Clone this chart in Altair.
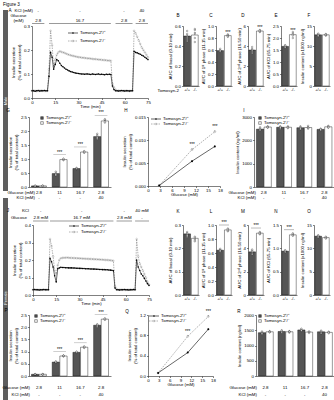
import altair as alt
import pandas as pd

FONT = "Liberation Sans"
FS = 4.4
DARK = "#555555"
KOC = "#808080"
SIDE = "#5e5e5e"
WT_LAB = "Tomosyn-2⁺/⁺"
KO_LAB = "Tomosyn-2⁻/⁻"
GENO = ["+/+", "-/-"]
GRPS = ["g1", "g2", "g3", "g4"]
ONE = pd.DataFrame({"d": [0]})

# ---------------- data ----------------
TIME = list(range(76))
A_WT = [0.030, 0.030, 0.028, 0.030, 0.031, 0.029, 0.030, 0.030, 0.031, 0.030, 0.030,
        0.090, 0.190, 0.170, 0.120, 0.140, 0.160, 0.155, 0.145, 0.135, 0.130,
        0.125, 0.120, 0.117, 0.113, 0.110, 0.108, 0.106, 0.104, 0.103, 0.102,
        0.101, 0.100, 0.100, 0.099, 0.100, 0.100, 0.099, 0.098, 0.100, 0.099,
        0.098, 0.099, 0.100, 0.098, 0.099, 0.098, 0.097, 0.099, 0.098, 0.099,
        0.098,
        0.050, 0.035, 0.030, 0.030, 0.029, 0.030, 0.031, 0.030, 0.029, 0.030, 0.030, 0.029, 0.030, 0.030,
        0.195, 0.190, 0.188, 0.185, 0.182, 0.178, 0.175, 0.170, 0.165, 0.160]
A_KO = [0.030, 0.031, 0.030, 0.029, 0.030, 0.030, 0.031, 0.030, 0.030, 0.029, 0.030,
        0.120, 0.280, 0.220, 0.130, 0.160, 0.180, 0.190, 0.195, 0.192, 0.190,
        0.188, 0.185, 0.182, 0.180, 0.178, 0.176, 0.175, 0.173, 0.172, 0.170,
        0.170, 0.168, 0.168, 0.167, 0.166, 0.165, 0.165, 0.164, 0.163, 0.162,
        0.162, 0.161, 0.160, 0.160, 0.159, 0.158, 0.158, 0.157, 0.156, 0.156,
        0.155,
        0.060, 0.045, 0.035, 0.030, 0.031, 0.030, 0.029, 0.030, 0.030, 0.031, 0.030, 0.029, 0.030, 0.030,
        0.280, 0.270, 0.255, 0.240, 0.225, 0.210, 0.200, 0.190, 0.180, 0.170]
J_WT = [0.030, 0.031, 0.030, 0.030, 0.029, 0.030, 0.030, 0.031, 0.030, 0.030, 0.030,
        0.210, 0.190, 0.160, 0.110, 0.075, 0.150, 0.155, 0.158, 0.157, 0.157,
        0.156, 0.156, 0.155, 0.155, 0.155, 0.154, 0.154, 0.153, 0.153, 0.152,
        0.152, 0.151, 0.151, 0.150, 0.150, 0.150, 0.149, 0.149, 0.148, 0.148,
        0.147, 0.147, 0.146, 0.146, 0.145, 0.145, 0.144, 0.144, 0.143, 0.142,
        0.141, 0.138,
        0.040, 0.030, 0.030, 0.029, 0.030, 0.030, 0.031, 0.030, 0.030, 0.029, 0.030, 0.030, 0.031, 0.030,
        0.200, 0.160, 0.140, 0.120, 0.110, 0.095, 0.080, 0.065, 0.055]
J_KO = [0.030, 0.030, 0.031, 0.030, 0.030, 0.029, 0.030, 0.030, 0.030, 0.031, 0.030,
        0.320, 0.280, 0.220, 0.140, 0.120, 0.170, 0.200, 0.210, 0.212, 0.213,
        0.213, 0.214, 0.213, 0.212, 0.212, 0.211, 0.211, 0.210, 0.210, 0.209,
        0.209, 0.208, 0.208, 0.207, 0.207, 0.206, 0.206, 0.205, 0.205, 0.204,
        0.204, 0.203, 0.203, 0.202, 0.202, 0.201, 0.200, 0.200, 0.199, 0.198,
        0.197, 0.195,
        0.050, 0.035, 0.030, 0.030, 0.031, 0.030, 0.030, 0.029, 0.030, 0.030, 0.031, 0.030, 0.030, 0.030,
        0.320, 0.220, 0.180, 0.160, 0.140, 0.120, 0.100, 0.075, 0.060]

A_SEG_A = [0, 11, 54, 67]
A_SEG_B = [8, 51, 65, 75]
A_GLC = ["2.8", "16.7", "2.8", "2.8"]
A_KCL = ["-", "-", "-", "40"]
J_SEG_A = [0, 11, 54, 66]
J_SEG_B = [10, 52, 64, 75]
J_GLC = ["2.8 mM", "16.7 mM", "2.8 mM", "-"]
J_KCL = ["-", "-", "-", "40 mM"]

# two-bar panels: means, sem, points
B_M = [0.50, 0.51]; B_E = [0.02, 0.03]
B_WP = [0.47, 0.52, 0.55, 0.49, 0.45]; B_KP = [0.56, 0.48, 0.53, 0.44, 0.57]
C_M = [0.59, 0.84]; C_E = [0.01, 0.01]
C_WP = [0.57, 0.60, 0.62, 0.58, 0.59]; C_KP = [0.82, 0.86, 0.84, 0.85, 0.83]
D_M = [3.6, 5.5]; D_E = [0.15, 0.05]
D_WP = [3.3, 3.7, 3.9, 3.5, 3.6]; D_KP = [5.4, 5.6, 5.5, 5.45, 5.55]
E_M = [1.65, 2.14]; E_E = [0.02, 0.05]
E_WP = [1.60, 1.65, 1.70, 1.62, 1.68]; E_KP = [2.00, 2.20, 2.15, 2.25, 2.10]
F_M = [12.8, 12.8]; F_E = [0.15, 0.12]
F_WP = [12.5, 13.0, 12.8, 13.1, 12.6]; F_KP = [12.6, 12.9, 12.7, 13.0, 12.8]
K_M = [0.262, 0.243]; K_E = [0.004, 0.004]
K_WP = [0.25, 0.27, 0.26, 0.255, 0.265]; K_KP = [0.23, 0.25, 0.245, 0.235, 0.24]
L_M = [0.64, 0.93]; L_E = [0.01, 0.01]
L_WP = [0.62, 0.65, 0.64, 0.63, 0.66]; L_KP = [0.91, 0.94, 0.92, 0.95, 0.93]
M_M = [3.7, 5.3]; M_E = [0.1, 0.08]
M_WP = [3.5, 3.8, 3.9, 3.6, 3.7]; M_KP = [5.2, 5.4, 5.3, 5.35, 5.25]
N_M = [0.94, 1.29]; N_E = [0.01, 0.02]
N_WP = [0.93, 0.95, 0.94, 0.92, 0.96]; N_KP = [1.27, 1.31, 1.30, 1.28, 1.32]
O_M = [12.6, 12.3]; O_E = [0.12, 0.1]
O_WP = [12.4, 12.8, 12.6, 12.5, 12.7]; O_KP = [12.2, 12.4, 12.3, 12.1, 12.5]

# grouped bar panels
GLC_LAB = ["2.8", "11", "16.7", "2.8"]
KCL_LAB = ["-", "-", "-", "40"]
G_WT = [0.04, 0.48, 0.66, 1.80]; G_KO = [0.04, 0.98, 1.25, 2.36]
G_WE = [0.005, 0.03, 0.02, 0.06]; G_KE = [0.005, 0.02, 0.03, 0.05]
G_WP = [[0.03, 0.04, 0.05, 0.04], [0.42, 0.50, 0.45, 0.55], [0.64, 0.67, 0.66, 0.68], [1.72, 1.85, 1.78, 1.90]]
G_KP = [[0.04, 0.03, 0.05, 0.04], [0.96, 1.00, 0.97, 1.01], [1.22, 1.27, 1.24, 1.28], [2.30, 2.40, 2.35, 2.42]]
G_STAR = ["", "***", "***", "***"]
I_WT = [2480, 2560, 2540, 2470]; I_KO = [2570, 2560, 2550, 2580]
I_WE = [60, 50, 60, 50]; I_KE = [40, 50, 60, 50]
I_WP = [[2420, 2520, 2560, 2450], [2500, 2600, 2580, 2550], [2480, 2600, 2560, 2520], [2420, 2500, 2480, 2460]]
I_KP = [[2540, 2600, 2580, 2560], [2520, 2600, 2570, 2550], [2500, 2620, 2560, 2530], [2540, 2620, 2600, 2560]]
I_STAR = ["", "", "", ""]
P_WT = [0.07, 0.57, 0.97, 2.08]; P_KO = [0.07, 0.82, 1.18, 2.33]
P_WE = [0.005, 0.02, 0.02, 0.04]; P_KE = [0.005, 0.02, 0.03, 0.03]
P_WP = [[0.06, 0.07, 0.08, 0.07], [0.55, 0.58, 0.56, 0.60], [0.95, 0.98, 0.96, 1.00], [2.02, 2.10, 2.06, 2.12]]
P_KP = [[0.07, 0.06, 0.08, 0.07], [0.80, 0.84, 0.82, 0.83], [1.15, 1.20, 1.17, 1.21], [2.30, 2.36, 2.32, 2.35]]
P_STAR = ["", "***", "***", "***"]
R_WT = [1420, 1460, 1510, 1450]; R_KO = [1450, 1450, 1440, 1430]
R_WE = [30, 30, 30, 30]; R_KE = [25, 25, 30, 25]
R_WP = [[1380, 1440, 1460, 1400], [1420, 1480, 1500, 1440], [1480, 1530, 1550, 1490], [1400, 1470, 1490, 1440]]
R_KP = [[1430, 1470, 1460, 1440], [1420, 1470, 1460, 1450], [1410, 1460, 1450, 1440], [1400, 1450, 1440, 1430]]
R_STAR = ["", "", "", ""]

# dose-response panels
GX = [2.8, 11, 16.7]
H_WT = [0.0001, 0.0054, 0.0086]; H_KO = [0.0001, 0.0079, 0.0118]
H_WE = [0.0001, 0.0002, 0.0003]; H_KE = [0.0001, 0.0003, 0.0003]
Q_WT = [0.06, 0.46, 0.92]; Q_KO = [0.06, 0.78, 1.17]
Q_WE = [0.005, 0.02, 0.02]; Q_KE = [0.005, 0.02, 0.03]
KO_STARS = ["", "***", "***"]


# ---------------- helpers ----------------
def txt(text, x, y, size=FS, align="center", angle=0, color="black"):
    return alt.Chart(ONE).mark_text(text=text, align=align, baseline="middle", fontSize=size,
                                    angle=angle, color=color, font=FONT).encode(
        x=alt.value(x), y=alt.value(y))


def hline(x1, x2, y, color="black", width=0.5, dash=None):
    kw = dict(color=color, strokeWidth=width)
    if dash:
        kw["strokeDash"] = dash
    return alt.Chart(ONE).mark_rule(**kw).encode(x=alt.value(x1), x2=alt.value(x2), y=alt.value(y))


def dot(x, y, filled, color="black", size=3):
    return alt.Chart(ONE).mark_point(shape="circle", filled=filled, color=color, size=size,
                                     strokeWidth=0.4, opacity=1).encode(x=alt.value(x), y=alt.value(y))


def square(x, y, fill):
    return alt.Chart(ONE).mark_square(size=7, fill=fill, stroke="black", strokeWidth=0.4,
                                      opacity=1).encode(x=alt.value(x), y=alt.value(y))


def rect(x1, x2, y1, y2, color):
    return alt.Chart(ONE).mark_rect(color=color).encode(
        x=alt.value(x1), x2=alt.value(x2), y=alt.value(y1), y2=alt.value(y2))


def line_legend(x, y, gap):
    return [hline(x, x + 10, y, "black", 0.6), dot(x + 5, y, True, "black", 2.5),
            txt(WT_LAB, x + 12, y, align="left"),
            hline(x, x + 10, y + gap, KOC, 0.6, [1.5, 1]), dot(x + 5, y + gap, False, KOC),
            txt(KO_LAB, x + 12, y + gap, align="left")]


def bar_legend(x, y, gap):
    return [square(x, y, DARK), txt(WT_LAB, x + 4, y, align="left"),
            square(x, y + gap, "white"), txt(KO_LAB, x + 4, y + gap, align="left")]


def sp(w, h=1):
    return alt.Chart(ONE).mark_point(opacity=0).encode(
        x=alt.value(0), y=alt.value(0)).properties(width=w, height=h)


def timecourse(wt, ko, ymax, yvals, h, seg_a, seg_b, glc, kcl, hdr_y, extras):
    w = 116
    dw = pd.DataFrame({"t": TIME, "v": wt})
    dk = pd.DataFrame({"t": TIME, "v": ko})
    sx = alt.Scale(domain=[0, 75], nice=False, zero=False)
    xax = alt.Axis(values=[0, 15, 30, 45, 60, 75], format="d", title="Time (min)", titlePadding=1)
    sy = alt.Scale(domain=[0, ymax], nice=False)
    yax = alt.Axis(values=yvals, format=".1f", title=["Insulin secretion", "(% of total content)"])

    def X(f):
        return alt.X(f"{f}:Q", scale=sx, axis=xax)

    Y = alt.Y("v:Q", scale=sy, axis=yax)
    hdr = pd.DataFrame({"a": seg_a, "b": seg_b, "glc": glc, "kcl": kcl})
    kr, gr, lr = hdr_y
    layers = [
        alt.Chart(dk).mark_line(color=KOC, strokeWidth=0.6, strokeDash=[1.5, 1]).encode(x=X("t"), y=Y),
        alt.Chart(dk).mark_point(shape="circle", filled=False, color=KOC, size=3,
                                 strokeWidth=0.4).encode(x=X("t"), y=Y),
        alt.Chart(dw).mark_line(color="black", strokeWidth=0.6).encode(x=X("t"), y=Y),
        alt.Chart(dw).mark_point(shape="circle", filled=True, color="black", size=2.5,
                                 opacity=1).encode(x=X("t"), y=Y),
        alt.Chart(hdr).mark_rule(color="black", strokeWidth=0.4).encode(
            x=X("a"), x2="b:Q", y=alt.value(lr)),
        alt.Chart(hdr).transform_calculate(t="(datum.a + datum.b) / 2").mark_text(
            fontSize=FS, font=FONT, color="black").encode(x=X("t"), y=alt.value(gr), text="glc:N"),
        alt.Chart(hdr).transform_calculate(t="(datum.a + datum.b) / 2").mark_text(
            fontSize=FS, font=FONT, color="black").encode(x=X("t"), y=alt.value(kr), text="kcl:N"),
    ]
    return alt.layer(*(layers + extras)).properties(width=w, height=h)


def bar2(m, e, wp, kp, ymax, yvals, fmt, title, letter, ly, star=False, bracket=False,
         w=16, h=60, extras=None):
    bd = pd.DataFrame({"g": GENO, "m": m, "e": e})
    bd["hi"] = bd["m"] + bd["e"]
    pdf = pd.DataFrame({"g": ["+/+"] * len(wp) + ["-/-"] * len(kp), "m": wp + kp})
    X = alt.X("g:N", sort=GENO, scale=alt.Scale(domain=GENO, paddingInner=0.12, paddingOuter=0.1),
              axis=alt.Axis(title=None, labelAngle=0, ticks=False, labelFontSize=4, labelPadding=1.5))
    sy = alt.Scale(domain=[0, ymax], nice=False)
    yax = alt.Axis(values=yvals, format=fmt, title=title)

    def Y(f):
        return alt.Y(f"{f}:Q", scale=sy, axis=yax)

    layers = [
        alt.Chart(bd).mark_bar(stroke="black", strokeWidth=0.4).encode(
            x=X, y=Y("m"), fill=alt.Fill("g:N", scale=alt.Scale(domain=GENO, range=[DARK, "white"]),
                                          legend=None)),
        alt.Chart(bd).mark_rule(color="black", strokeWidth=0.4).encode(x=X, y=Y("m"), y2="hi:Q"),
        alt.Chart(pdf).mark_circle(size=2.5, fill="white", stroke="black", strokeWidth=0.3,
                                   opacity=1).encode(x=X, y=Y("m")),
        txt(letter, -5, ly, size=4.6),
    ]
    if star and not bracket:
        layers.append(alt.Chart(bd).transform_filter("datum.g == '-/-'").mark_text(
            text="***", dy=-2.5, fontSize=4.5, font=FONT, color="black").encode(x=X, y=Y("hi")))
    if bracket:
        bk = pd.DataFrame({"lvl": [bd["hi"].max() + 0.06 * ymax]})
        layers.append(alt.Chart(bk).mark_rule(color="#777777", strokeWidth=0.5).encode(
            x=alt.value(3), x2=alt.value(w - 3), y=Y("lvl")))
        layers.append(alt.Chart(bk).mark_text(text="***", dy=-2, fontSize=4.5, font=FONT,
                                              color="black").encode(x=alt.value(w / 2), y=Y("lvl")))
    if extras:
        layers += extras
    return alt.layer(*layers).properties(width=w, height=h)


def grouped(wm, km, we, ke, wps, kps, stars, ymax, yvals, fmt, title, w, h, rows_y, labx,
            letter, lpos, legpos):
    rows = []
    prow = []
    for i, gname in enumerate(GRPS):
        rows.append((gname, "+/+", wm[i], we[i]))
        rows.append((gname, "-/-", km[i], ke[i]))
        for v in wps[i]:
            prow.append((gname, "+/+", v))
        for v in kps[i]:
            prow.append((gname, "-/-", v))
    bd = pd.DataFrame(rows, columns=["grp", "g", "m", "e"])
    bd["hi"] = bd["m"] + bd["e"]
    pdf = pd.DataFrame(prow, columns=["grp", "g", "m"])
    st = pd.DataFrame({"grp": GRPS, "star": stars,
                       "lvl": [max(wm[i] + we[i], km[i] + ke[i]) + 0.06 * ymax for i in range(4)]})
    lab = pd.DataFrame({"grp": GRPS, "glc": GLC_LAB, "kcl": KCL_LAB})
    X = alt.X("grp:N", sort=GRPS, scale=alt.Scale(domain=GRPS, paddingInner=0.28, paddingOuter=0.12),
              axis=alt.Axis(labels=False, ticks=False, title=None))
    XO = alt.XOffset("g:N", sort=GENO, scale=alt.Scale(domain=GENO, paddingInner=0.05))
    sy = alt.Scale(domain=[0, ymax], nice=False)
    yax = alt.Axis(values=yvals, format=fmt, title=title)

    def Y(f):
        return alt.Y(f"{f}:Q", scale=sy, axis=yax)

    band = w / 3.96 * 0.72
    r1, r2 = rows_y
    layers = [
        alt.Chart(bd).mark_bar(stroke="black", strokeWidth=0.4).encode(
            x=X, xOffset=XO, y=Y("m"),
            fill=alt.Fill("g:N", scale=alt.Scale(domain=GENO, range=[DARK, "white"]), legend=None)),
        alt.Chart(bd).mark_rule(color="black", strokeWidth=0.4).encode(x=X, xOffset=XO, y=Y("m"), y2="hi:Q"),
        alt.Chart(pdf).mark_circle(size=2.5, fill="white", stroke="black", strokeWidth=0.3,
                                   opacity=1).encode(x=X, xOffset=XO, y=Y("m")),
        alt.Chart(st).transform_filter("datum.star != ''").mark_tick(
            size=band * 0.85, thickness=0.5, color="#777777").encode(x=X, y=Y("lvl")),
        alt.Chart(st).transform_filter("datum.star != ''").mark_text(
            dy=-2, fontSize=4.5, font=FONT, color="black").encode(x=X, y=Y("lvl"), text="star:N"),
        alt.Chart(lab).mark_text(fontSize=FS, font=FONT, color="black").encode(
            x=X, y=alt.value(h + r1), text="glc:N"),
        alt.Chart(lab).mark_text(fontSize=FS, font=FONT, color="black").encode(
            x=X, y=alt.value(h + r2), text="kcl:N"),
        txt("Glucose (mM)", labx, h + r1, align="right"),
        txt("KCl (mM)", labx, h + r2, align="right"),
        txt(letter, lpos[0], lpos[1], size=4.6),
    ] + bar_legend(legpos[0], legpos[1], 5)
    return alt.layer(*layers).properties(width=w, height=h)


def dose(wt, ko, we, ke, ymax, yvals, fmt, w, h, letter, lpos, legpos):
    df = pd.DataFrame({"x": GX + GX, "v": wt + ko, "e": we + ke,
                       "g": ["wt"] * 3 + ["ko"] * 3, "star": [""] * 3 + KO_STARS})
    df["hi"] = df["v"] + df["e"]
    dw = df[df["g"] == "wt"]
    dk = df[df["g"] == "ko"]
    X = alt.X("x:Q", scale=alt.Scale(domain=[0, 18], nice=False, zero=False),
              axis=alt.Axis(values=[0, 3, 6, 9, 12, 15, 18], format="d", title="Glucose (mM)",
                            titlePadding=1))
    sy = alt.Scale(domain=[0, ymax], nice=False)
    yax = alt.Axis(values=yvals, format=fmt, title=["Insulin secretion", "(% of total content)"])

    def Y(f):
        return alt.Y(f"{f}:Q", scale=sy, axis=yax)

    layers = [
        alt.Chart(dk).mark_line(color=KOC, strokeWidth=0.6, strokeDash=[1.5, 1]).encode(x=X, y=Y("v")),
        alt.Chart(dw).mark_line(color="black", strokeWidth=0.6).encode(x=X, y=Y("v")),
        alt.Chart(df).mark_rule(color="black", strokeWidth=0.4).encode(x=X, y=Y("v"), y2="hi:Q"),
        alt.Chart(dk).mark_point(shape="circle", filled=False, color=KOC, size=4,
                                 strokeWidth=0.5).encode(x=X, y=Y("v")),
        alt.Chart(dw).mark_point(shape="circle", filled=True, color="black", size=4,
                                 opacity=1).encode(x=X, y=Y("v")),
        alt.Chart(dk).mark_text(dy=-3.5, fontSize=4.5, font=FONT, color="black").encode(
            x=X, y=Y("hi"), text="star:N"),
        txt(letter, lpos[0], lpos[1], size=4.6),
    ] + line_legend(legpos[0], legpos[1], 5)
    return alt.layer(*layers).properties(width=w, height=h)


# ---------------- panels ----------------
A = timecourse(A_WT, A_KO, 0.3, [0, 0.1, 0.2, 0.3], 72, A_SEG_A, A_SEG_B, A_GLC, A_KCL,
               (-15, -5.5, -2.5),
               [txt("Figure 3", -29, -21, size=4.6, align="left"),
                rect(-29, -24, -16, 165, SIDE),
                txt("Male", -26.5, 75, size=4, angle=270, color="white"),
                txt("A", -22, -15, size=4.6),
                txt("KCl (mM)", 1, -15, align="right"),
                txt("Glucose", -13.5, -10),
                txt("(mM)", -13.5, -5.5)] + line_legend(36, 7, 8))

B = bar2(B_M, B_E, B_WP, B_KP, 0.6, [0, 0.2, 0.4, 0.6], ".1f", "AUC of basal (0-10 min)", "B", -10,
         extras=[txt("Tomosyn-2", -4, 65, align="right")])
C = bar2(C_M, C_E, C_WP, C_KP, 1.0, [0, 0.2, 0.4, 0.6, 0.8, 1.0], ".1f",
         "AUC of 1ˢᵗ phase (11-15 min)", "C", -10, star=True)
D = bar2(D_M, D_E, D_WP, D_KP, 6, [0, 2, 4, 6], "d", "AUC of 2ⁿᵈ phase (16-50 min)", "D", -10, star=True)
E = bar2(E_M, E_E, E_WP, E_KP, 2.5, [0, 0.5, 1.0, 1.5, 2.0, 2.5], ".1f", "AUC of KCl (65-75 min)",
         "E", -10, star=True)
Fp = bar2(F_M, F_E, F_WP, F_KP, 15, [0, 5, 10, 15], "d", "Insulin content (x1000 ng/ml)", "F", -10)

G = grouped(G_WT, G_KO, G_WE, G_KE, G_WP, G_KP, G_STAR, 2.5, [0, 0.5, 1.0, 1.5, 2.0, 2.5], ".1f",
            ["Insulin secretion", "(% of total content)"], 82, 70, (6, 11), 6, "G", (-21, -6), (13, 1))
H = dose(H_WT, H_KO, H_WE, H_KE, 0.015, [0, 0.005, 0.010, 0.015], ".3f", 72, 69, "H", (-22, -6), (3, 2))
I = grouped(I_WT, I_KO, I_WE, I_KE, I_WP, I_KP, I_STAR, 3000, [0, 1000, 2000, 3000], "d",
            "Insulin content (ng/ml)", 80, 70, (6, 11), 2, "I", (-10, -6), (6, 1))

J = timecourse(J_WT, J_KO, 0.4, [0, 0.1, 0.2, 0.3, 0.4], 70, J_SEG_A, J_SEG_B, J_GLC, J_KCL,
               (-14, -7, -4),
               [rect(-30, -25, -27, 176, SIDE),
                txt("Female", -27.5, 73, size=4, angle=270, color="white"),
                txt("J", -25, -14, size=4.6),
                txt("KCl", -4, -14, align="right"),
                txt("Glucose", -6, -7, align="right")] + line_legend(36, 1, 6))

K = bar2(K_M, K_E, K_WP, K_KP, 0.3, [0, 0.1, 0.2, 0.3], ".1f", "AUC of basal (0-10 min)", "K", -13, h=70)
L = bar2(L_M, L_E, L_WP, L_KP, 1.0, [0, 0.2, 0.4, 0.6, 0.8, 1.0], ".1f",
         "AUC of 1ˢᵗ phase (11-15 min)", "L", -13, bracket=True, h=70)
M = bar2(M_M, M_E, M_WP, M_KP, 6, [0, 2, 4, 6], "d", "AUC of 2ⁿᵈ phase (16-50 min)", "M", -13,
         bracket=True, h=70)
N = bar2(N_M, N_E, N_WP, N_KP, 1.5, [0, 0.5, 1.0, 1.5], ".1f", "AUC of KCl (65-75 min)", "N", -13,
         bracket=True, h=70)
O = bar2(O_M, O_E, O_WP, O_KP, 15, [0, 5, 10, 15], "d", "Insulin content (x1000 ng/ml)", "O", -13, h=70)

P = grouped(P_WT, P_KO, P_WE, P_KE, P_WP, P_KP, P_STAR, 2.5, [0, 0.5, 1.0, 1.5, 2.0, 2.5], ".1f",
            ["Insulin secretion", "(% of total content)"], 82, 61, (12, 19), 1, "P", (-23, -4), (7, 1))
Q = dose(Q_WT, Q_KO, Q_WE, Q_KE, 1.2, [0, 0.4, 0.8, 1.2], ".1f", 65, 61, "Q", (-21, -3), (1, 1))
R = grouped(R_WT, R_KO, R_WE, R_KE, R_WP, R_KP, R_STAR, 2000, [0, 500, 1000, 1500, 2000], "d",
            "Insulin content (ng/ml)", 78, 61, (12, 19), 1, "R", (-17, -3), (4, 1))

row1 = alt.hconcat(sp(3), A, sp(35), B, sp(17), C, sp(16), D, sp(17), E, sp(17), Fp,
                   spacing=0, bounds="flush")
row2 = alt.hconcat(G, sp(37), H, sp(34), I, spacing=0, bounds="flush")
row3 = alt.hconcat(sp(4), J, sp(34), K, sp(17), L, sp(16), M, sp(17), N, sp(17), O,
                   spacing=0, bounds="flush")
row4 = alt.hconcat(P, sp(37), Q, sp(43), R, spacing=0, bounds="flush")

chart = alt.vconcat(row1, sp(1, 91), row2, sp(1, 108), row3, sp(1, 90), row4,
                    spacing=0, bounds="flush").properties(
    padding={"left": 2, "top": 2, "right": 0, "bottom": 0}
).configure(font=FONT).configure_view(stroke=None).configure_axis(
    labelFont=FONT, titleFont=FONT, labelFontSize=FS, titleFontSize=4.3, labelColor="black",
    titleColor="black", domainColor="black", tickColor="black", domainWidth=0.5, tickWidth=0.5,
    tickSize=1.5, labelPadding=1, titlePadding=2, grid=False, labelFlush=False, labelOverlap=False,
    titleFontWeight="normal"
).configure_text(font=FONT, color="black")

chart.save("out.html", embed_options={"renderer": "svg", "actions": False})
